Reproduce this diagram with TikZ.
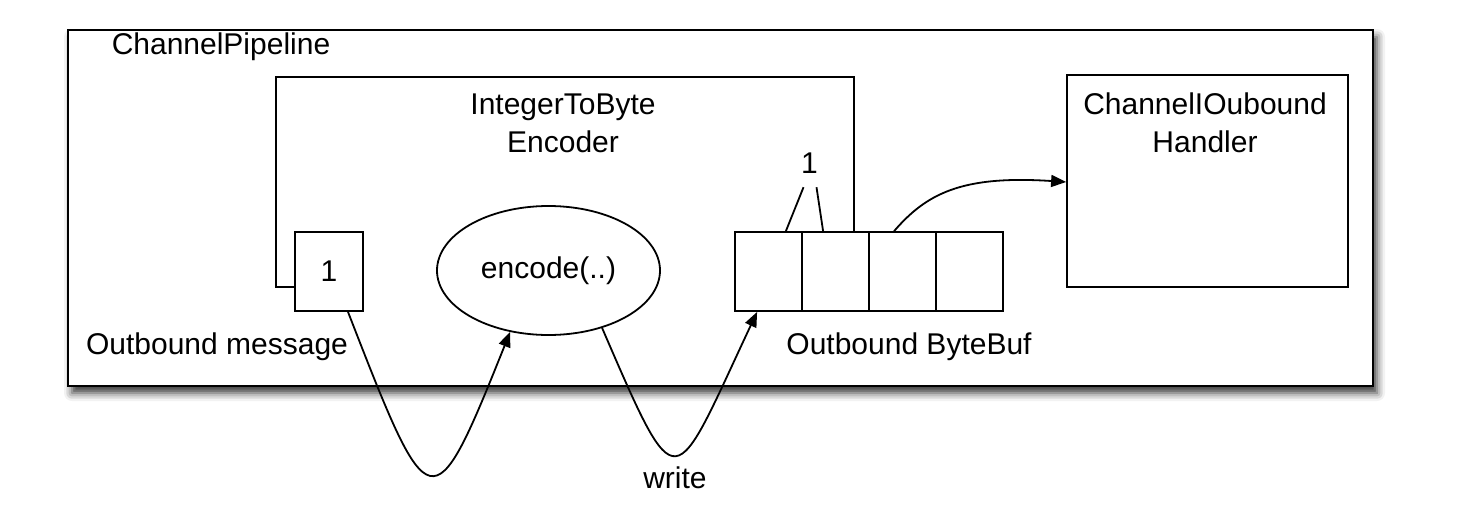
\documentclass[tikz,border=0pt]{standalone}
\usepackage{fontspec}
\setmainfont{Liberation Sans}
\usetikzlibrary{arrows.meta,positioning,calc,backgrounds,shapes.geometric,shadows.blur}

\begin{document}
\begin{tikzpicture}[x=1pt,y=-1pt,line width=1.8pt,>={Triangle[length=15pt,width=12pt]},
    font=\fontsize{30}{37}\selectfont,
    every node/.style={inner sep=0pt},
    plainbox/.style={draw,rectangle},
    cellbox/.style={draw,rectangle,minimum width=67pt,minimum height=79pt},
    txt/.style={anchor=base,align=center}]
    \useasboundingbox (0,0) rectangle (1458,516);

    % outer pipeline frame with its shadow
    \node[plainbox,fill=white,minimum width=1305pt,minimum height=356pt,
          blur shadow={shadow xshift=4pt,shadow yshift=-7pt,shadow blur radius=8pt,shadow opacity=80}]
          (pipeline) at (720.5,208) {};
    \node[txt] (pipelinelabel) at (221,55) {ChannelPipeline};

    % message, encoder and byte buffer
    \node[cellbox,minimum width=68pt] (msg) at (329,271.5) {1};
    \node[draw,ellipse,fill=white,minimum width=223pt,minimum height=129pt] (encode) at (548.5,270.5) {encode(..)};
    \foreach \i in {1,...,4}
        \node[cellbox] (c\i) at (701.5+67*\i,271.5) {};

    \coordinate (wire) at (0,287);
    \coordinate (frameL) at (276,77);
    \coordinate (frameR) at (854,77);
    \begin{scope}[on background layer]
        \draw (msg.east |- wire) -- (c1.west |- wire);
    \end{scope}
    \draw (msg.west |- wire) -- (frameL |- wire) -- (frameL) -- (frameR) -- (frameR |- c2.north);
    \node[txt] (encoderlabel) at (563,152) {IntegerToByte\\Encoder};

    % byte written into the buffer
    \node (one) at (809.5,163) {1};
    \draw ($(c1.north east)+(-17,0)$) -- ($(one.south)+(-6,13)$);
    \draw ($(c2.north west)+(22,0)$) -- ($(one.south)+(7,13)$);

    % next handler
    \node[plainbox,minimum width=281pt,minimum height=212pt] (handler) at (1207.5,181) {};
    \node[txt] (handlerlabel) at (1205,152) {ChannelIOubound\\Handler};
    \coordinate (handlerin) at (0,182);
    \draw[->] ($(c3.north west)+(26,0)$) .. controls +(32,-37) and +(-105,-7) .. (handler.west |- handlerin);

    \node[txt] (msglabel) at (217,354) {Outbound message};
    \node[txt] (buflabel) at (909,354) {Outbound ByteBuf};

    % the two loops below the frame
    \draw[->] ($(msg.south)+(19,0)$) .. controls +(82,211) and +(-78,195) .. (encode.238);
    \draw[->] (encode.313) .. controls +(77,178) and +(-85,181) .. ($(c1.south west)+(23,0)$);
    \node[txt] (writelabel) at (675,488) {write};
\end{tikzpicture}
\end{document}
